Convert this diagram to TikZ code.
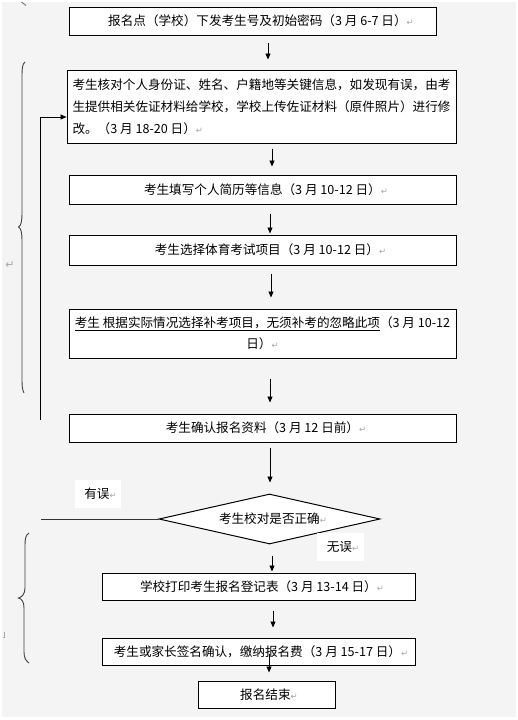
\documentclass[tikz,border=0pt]{standalone}
\usepackage{fontspec}
\setmainfont{Noto Sans CJK SC}
\newfontfamily\dvs{DejaVu Sans}
\usetikzlibrary{arrows.meta,shapes.geometric,calc}
\definecolor{bg}{HTML}{F4F4F4}
\definecolor{pm}{HTML}{A8A8A8}
\newcommand{\pmk}{\textcolor{pm}{\dvs\fontsize{8.5}{8.5}\selectfont ↵}}
\begin{document}
\begin{tikzpicture}[x=1pt,y=-1pt,
  box/.style={draw=black, line width=1pt, fill=white, inner sep=0pt, font=\fontsize{12.6}{22}\selectfont},
  arr/.style={-{Triangle[length=6pt,width=5pt]}, line width=0.9pt},
  lbl/.style={fill=white, inner sep=0pt, font=\fontsize{12.6}{15}\selectfont},
  brc/.style={draw=black!75, line width=0.9pt}
]
\useasboundingbox (0,0) rectangle (518,720);
\fill[bg] (1.5,1.5) rectangle (516,717);

% braces and marks at left
\draw[brc] (25,62) .. controls (22.5,64) and (22,68) .. (22,75) -- (22,214)
  .. controls (22,221) and (21,226) .. (18.5,227)
  .. controls (21,228) and (22,233) .. (22,240) -- (22,380)
  .. controls (22,387) and (22.5,390) .. (24,393);
\draw[brc] (29,533) .. controls (26,535) and (25,538) .. (25,545) -- (25,588)
  .. controls (25,594) and (22,597) .. (18.5,598)
  .. controls (22,599) and (24,602) .. (24,608) -- (24,652)
  .. controls (24,658) and (26,661) .. (29,663);
\draw[black!55, line width=0.9pt] (21.5,2) -- (26,5.5);
\node[text=pm, font=\dvs\fontsize{11}{11}\selectfont, inner sep=0pt] (pm1) at (10,265) {↵};
\draw[pm, line width=0.8pt] (4.2,631.5) -- (4.2,637) -- (2.5,637);

% boxes
\node[box, minimum width=367pt, minimum height=28pt] (b1) at (252.5,21)
  {\hspace*{17pt}报名点（学校）下发考生号及初始密码（3 月 6-7 日）\pmk};
\node[box, minimum width=389pt, minimum height=73pt, align=left] (b2) at (261.5,106.5)
  {考生核对个人身份证、姓名、户籍地等关键信息，如发现有误，由考\\
   生提供相关佐证材料给学校，学校上传佐证材料（原件照片）进行修\\
   改。（3 月 18-20 日）\pmk};
\node[box, minimum width=387pt, minimum height=29pt] (b3) at (262.5,189.5)
  {\hspace*{7pt}考生填写个人简历等信息（3 月 10-12 日）\pmk};
\node[box, minimum width=387pt, minimum height=30pt] (b4) at (262.5,250)
  {\hspace*{16pt}考生选择体育考试项目（3 月 10-12 日）\pmk};
\node[box, minimum width=387pt, minimum height=49pt, align=center, font=\fontsize{12.6}{21}\selectfont] (b5) at (262.5,333.5)
  {\underline{考生 根据实际情况选择补考项目，无须补考的忽略此项}（3 月 10-12\\
   日）\pmk};
\node[box, minimum width=387pt, minimum height=28pt] (b6) at (262.5,428)
  {\hspace*{7pt}考生确认报名资料（3 月 12 日前）\pmk};
\node[box, diamond, aspect=4.42, minimum width=221pt, minimum height=50pt] (dia) at (269.5,519)
  {\hspace*{7pt}考生校对是否正确\pmk};
\node[box, minimum width=313pt, minimum height=27pt] (b7) at (258.5,586.5)
  {\hspace*{7pt}学校打印考生报名登记表（3 月 13-14 日）\pmk};
\node[box, minimum width=313pt, minimum height=27pt] (b8) at (258.5,651.5)
  {\hspace*{5pt}考生或家长签名确认，缴纳报名费（3 月 15-17 日）\pmk};
\node[box, minimum width=137pt, minimum height=27pt] (b9) at (266.5,694.5)
  {\hspace*{5pt}报名结束\pmk};

% labels
\node[lbl, minimum width=46pt, minimum height=28pt] (yw) at (98,494) {\hspace*{5pt}有误\pmk};
\node[lbl, minimum width=47pt, minimum height=28pt] (ww) at (340.5,547) {\hspace*{5pt}无误\pmk};

% arrows
\draw[arr, shorten <=7pt, shorten >=10pt] ([xshift=15.5pt]b1.south) -- ([xshift=6.5pt]b2.north);
\draw[arr, shorten <=5pt, shorten >=8pt] ([xshift=10.5pt]b2.south) -- ([xshift=9.5pt]b3.north);
\draw[arr, shorten <=9pt, shorten >=1pt] ([xshift=7.5pt]b3.south) -- ([xshift=7.5pt]b4.north);
\draw[arr, shorten <=8pt, shorten >=11pt] ([xshift=8.5pt]b4.south) -- ([xshift=8.5pt]b5.north);
\draw[arr, shorten <=20pt, shorten >=11pt] ([xshift=7.5pt]b5.south) -- ([xshift=7.5pt]b6.north);
\draw[arr, shorten <=5pt, shorten >=11pt] ([xshift=7.5pt]b6.south) -- ([xshift=0.5pt]dia.north);
\draw[arr, shorten <=11pt, shorten >=1pt] ([xshift=2.5pt]dia.south) -- ([xshift=13.5pt]b7.north);
\draw[arr, shorten <=10pt, shorten >=10pt] ([xshift=14.5pt]b7.south) -- ([xshift=14.5pt]b8.north);
\draw[arr, shorten <=-12pt, shorten >=8pt] ([xshift=10.5pt]b8.south) -- ([xshift=2.5pt]b9.north);

% feedback loop
\coordinate (fbtop) at (40,117);
\coordinate (fbbot) at (40,420);
\coordinate (fbend) at (41,521);
\draw[line width=1pt, black!80] (dia.west) -- (dia.west -| fbend);
\draw[arr] (fbbot) -- (fbtop) -- ([yshift=-10.5pt]b2.west);
\end{tikzpicture}
\end{document}
